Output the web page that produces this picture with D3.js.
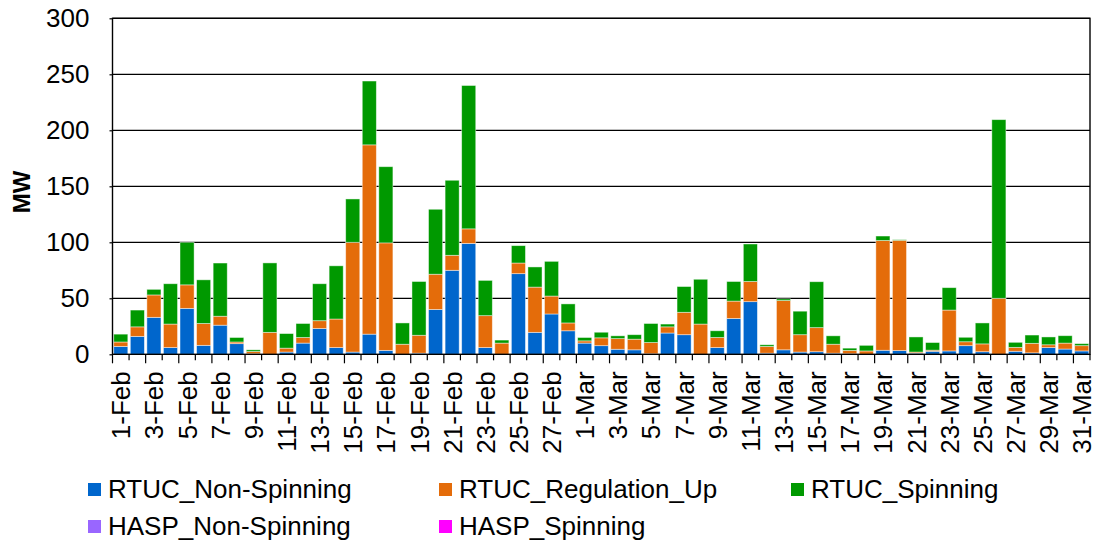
<!DOCTYPE html>
<html>
<head>
<meta charset="utf-8">
<script src="https://cdn.jsdelivr.net/npm/d3@7/dist/d3.min.js"></script>
<style>
  html, body { margin: 0; padding: 0; background: #fff; }
  svg { display: block; font-family: "Liberation Sans", Arial, sans-serif; }
</style>
</head>
<body>
<svg id="chart" width="1096" height="542"></svg>
<script>
// Daily ancillary service awards, 1 Feb – 31 Mar
const days = [
  "1-Feb","2-Feb","3-Feb","4-Feb","5-Feb","6-Feb","7-Feb","8-Feb","9-Feb","10-Feb",
  "11-Feb","12-Feb","13-Feb","14-Feb","15-Feb","16-Feb","17-Feb","18-Feb","19-Feb","20-Feb",
  "21-Feb","22-Feb","23-Feb","24-Feb","25-Feb","26-Feb","27-Feb","28-Feb",
  "1-Mar","2-Mar","3-Mar","4-Mar","5-Mar","6-Mar","7-Mar","8-Mar","9-Mar","10-Mar",
  "11-Mar","12-Mar","13-Mar","14-Mar","15-Mar","16-Mar","17-Mar","18-Mar","19-Mar","20-Mar",
  "21-Mar","22-Mar","23-Mar","24-Mar","25-Mar","26-Mar","27-Mar","28-Mar","29-Mar","30-Mar","31-Mar"
];

const rtucNonSpinning = [
  7, 16, 33, 6, 41, 8, 26, 9.5, 0.5, 0,
  2, 10, 23, 6, 2, 18, 3.5, 0, 1, 40,
  75, 99, 6, 0, 72, 19.6, 36, 21,
  10, 7.7, 4.5, 4, 0.5, 19, 17.5, 0, 6, 32,
  47, 1, 4, 2, 2.3, 1, 0.5, 0, 3.6, 3.3,
  1, 2.7, 3, 7.7, 2.3, 0, 2.7, 1.3, 6, 4.7, 3
];
const rtucRegulationUp = [
  4, 8.5, 20, 21, 21, 19.5, 8, 1.5, 2, 19.6,
  3.5, 5, 7, 25.5, 98, 169, 96, 9, 16, 31.5,
  13.4, 13, 28.5, 10, 9.5, 40.4, 16, 7,
  2, 7, 9.5, 9.5, 10, 5.5, 20, 27, 9, 15.5,
  18, 6, 44, 15.5, 21.5, 8, 3, 3, 98, 98.5,
  1, 1, 36.5, 3.5, 7, 50, 3.5, 8.5, 2.5, 5.3, 4.7
];
const rtucSpinning = [
  7, 15, 5, 36, 38, 39, 47.5, 4, 1.5, 62,
  13, 12.5, 33, 47.5, 38.7, 57, 68, 19, 48, 58,
  67, 128, 31.5, 2.7, 15.5, 18, 31, 17,
  3, 5, 2.5, 4, 17, 2.5, 23, 40, 6, 17.5,
  33.5, 1.5, 1.5, 21, 41, 7.5, 2, 5, 4, 0.5,
  13.5, 6.8, 20, 4, 18.7, 159.5, 4.5, 7.4, 7, 6.6, 1.8
];
const haspNonSpinning = days.map(() => 0);
const haspSpinning = days.map(() => 0);

const seriesNames = ["RTUC_Non-Spinning", "RTUC_Regulation_Up", "RTUC_Spinning", "HASP_Non-Spinning", "HASP_Spinning"];
const seriesColors = ["#0066CC", "#E46C0A", "#009900", "#9966FF", "#FF00FF"];
const seriesValues = [rtucNonSpinning, rtucRegulationUp, rtucSpinning, haspNonSpinning, haspSpinning];
const yTicks = [0, 50, 100, 150, 200, 250, 300];

// Row table for d3.stack
const rows = days.map((d, i) => {
  const r = { day: d };
  seriesNames.forEach((s, k) => { r[s] = seriesValues[k][i]; });
  return r;
});

const svg = d3.select("#chart");
const plot = { left: 112.5, right: 1090, top: 18.3, bottom: 354.3 };
const fontSize = 26;

const x = d3.scaleBand()
  .domain(days)
  .range([plot.left, plot.right])
  .paddingInner(0.15)
  .paddingOuter(0.075);

const y = d3.scaleLinear()
  .domain([0, 300])
  .range([plot.bottom, plot.top]);

// Horizontal gridlines
svg.append("g")
  .selectAll("line")
  .data(yTicks.filter(t => t > 0))
  .join("line")
  .attr("x1", plot.left).attr("x2", plot.right)
  .attr("y1", d => y(d)).attr("y2", d => y(d))
  .attr("stroke", "#000").attr("stroke-width", 1.2);

// Stacked bars
const stacked = d3.stack().keys(seriesNames)(rows);
svg.append("g")
  .selectAll("g")
  .data(stacked)
  .join("g")
  .attr("fill", (d, i) => seriesColors[i])
  .selectAll("rect")
  .data(d => d.filter(p => p[1] - p[0] > 0))
  .join("rect")
  .attr("x", d => x(d.data.day))
  .attr("width", x.bandwidth())
  .attr("y", d => y(d[1]))
  .attr("height", d => y(d[0]) - y(d[1]))
  .attr("stroke", "#ffffff")
  .attr("stroke-opacity", 0.55)
  .attr("stroke-width", 0.8);

// Plot frame
svg.append("rect")
  .attr("x", plot.left).attr("y", plot.top)
  .attr("width", plot.right - plot.left).attr("height", plot.bottom - plot.top)
  .attr("fill", "none").attr("stroke", "#000").attr("stroke-width", 1.4);

// Y axis
const yAxis = d3.axisLeft(y).tickValues(yTicks).tickSize(3).tickPadding(20);
const gy = svg.append("g").attr("transform", `translate(${plot.left},0)`).call(yAxis);
gy.select(".domain").remove();
gy.selectAll("line").attr("stroke", "#000").attr("stroke-width", 1.2);
gy.selectAll("text")
  .attr("font-size", fontSize)
  .attr("fill", "#000")
  .attr("font-family", "Liberation Sans, Arial, sans-serif");

// X axis: ticks on category boundaries, labels on every other day
const step = x.step();
const boundaries = d3.range(days.length + 1);
svg.append("g")
  .selectAll("line")
  .data(boundaries)
  .join("line")
  .attr("x1", i => plot.left + i * step)
  .attr("x2", i => plot.left + i * step)
  .attr("y1", plot.bottom)
  .attr("y2", i => plot.bottom + (i % 2 === 0 ? 9 : 6))
  .attr("stroke", "#000").attr("stroke-width", 1.2);

svg.append("g")
  .selectAll("text")
  .data(days.filter((d, i) => i % 2 === 0))
  .join("text")
  .attr("transform", d => `translate(${x(d) + x.bandwidth() / 2 + 9.5},${plot.bottom + 17}) rotate(-90)`)
  .attr("text-anchor", "end")
  .attr("font-size", fontSize)
  .attr("fill", "#000")
  .text(d => d);

// Y axis title
svg.append("text")
  .attr("transform", "translate(30,192) rotate(-90)")
  .attr("text-anchor", "middle")
  .attr("font-size", 24)
  .attr("font-weight", "bold")
  .attr("fill", "#000")
  .text("MW");

// Legend
const legendPos = [
  { x: 88, y: 483 }, { x: 439, y: 483 }, { x: 791, y: 483 },
  { x: 88, y: 520 }, { x: 439, y: 520 }
];
const legend = svg.append("g")
  .selectAll("g")
  .data(seriesNames)
  .join("g")
  .attr("transform", (d, i) => `translate(${legendPos[i].x},${legendPos[i].y})`);
legend.append("rect")
  .attr("width", 13).attr("height", 13)
  .attr("fill", (d, i) => seriesColors[i]);
legend.append("text")
  .attr("x", 20).attr("y", 15)
  .attr("font-size", fontSize)
  .attr("fill", "#000")
  .text(d => d);
</script>
</body>
</html>
